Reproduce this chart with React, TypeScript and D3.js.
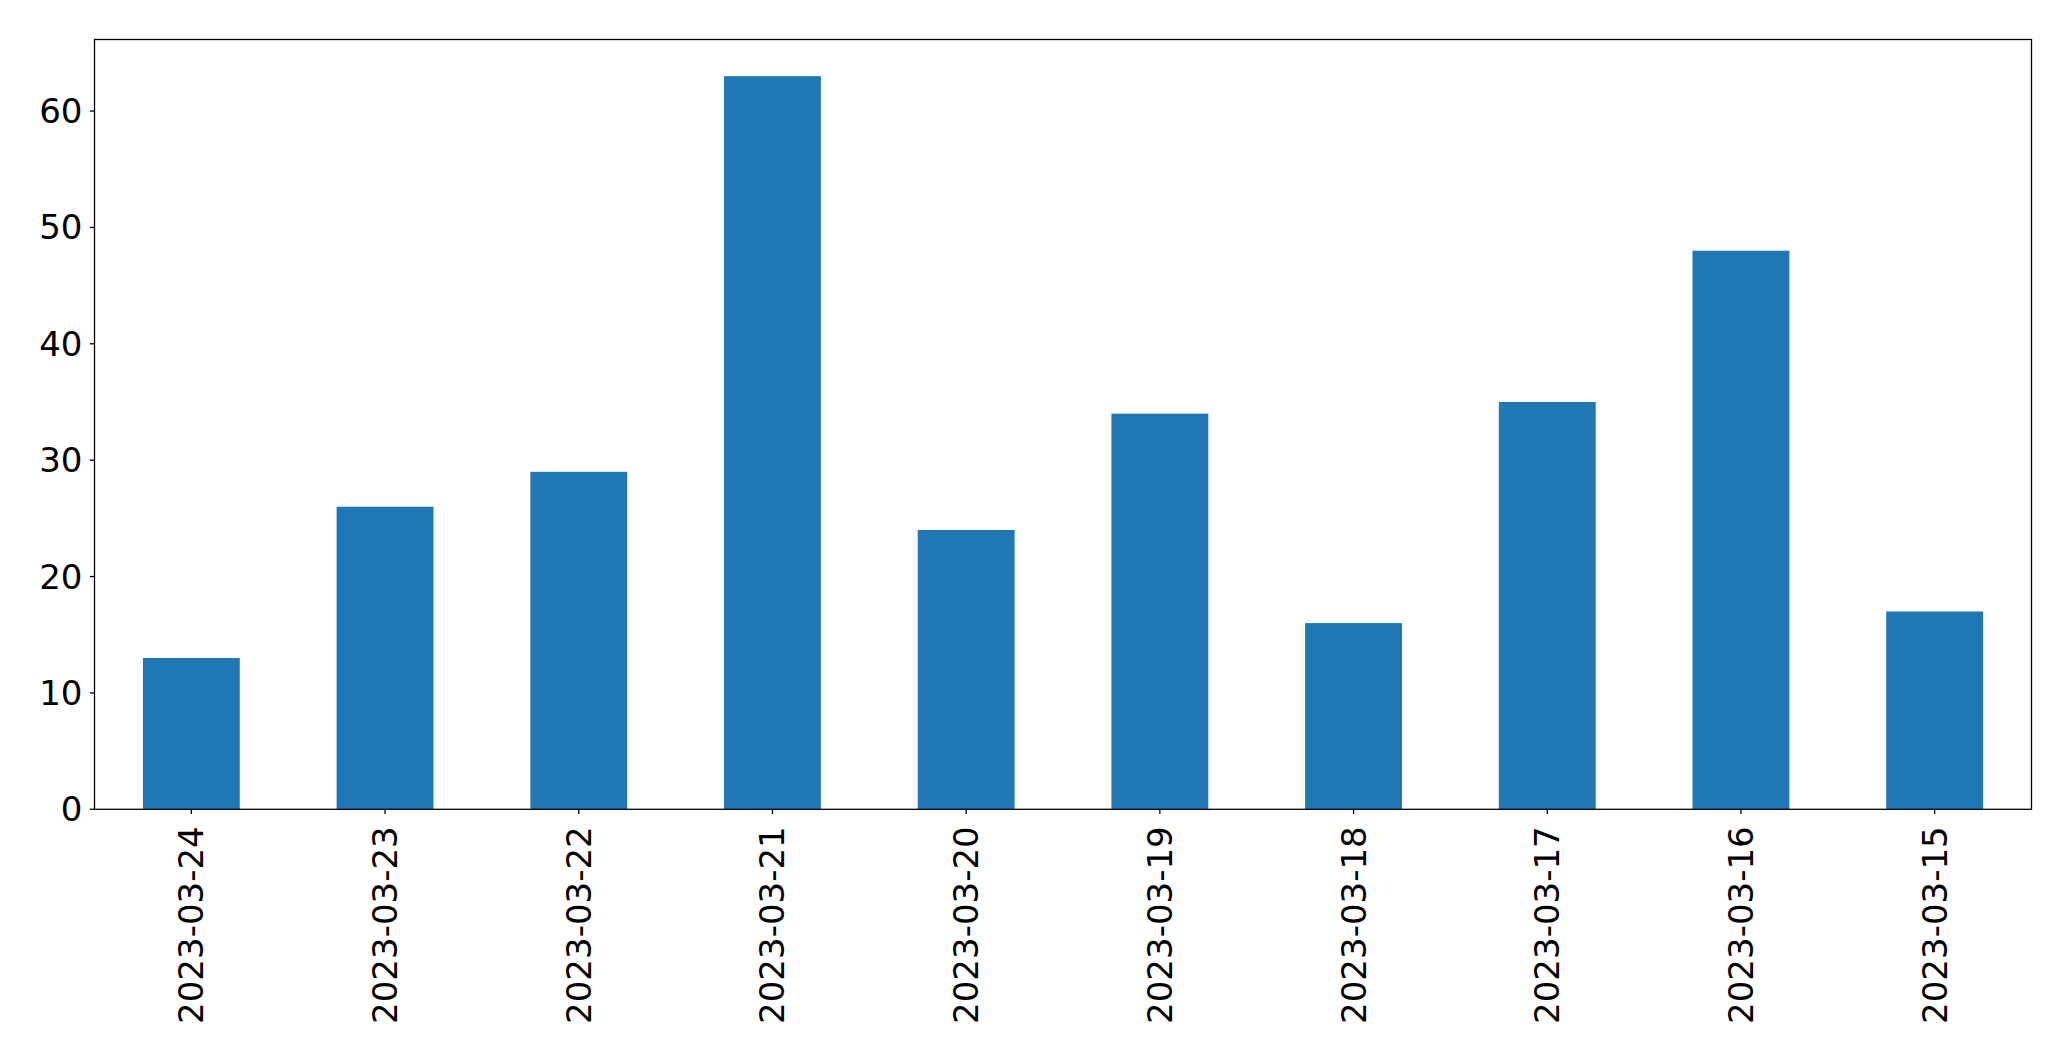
import React from "react";
import * as d3 from "d3";

const categories = ["2023-03-24","2023-03-23","2023-03-22","2023-03-21","2023-03-20","2023-03-19","2023-03-18","2023-03-17","2023-03-16","2023-03-15"];
const values = [13, 26, 29, 63, 24, 34, 16, 35, 48, 17];
const yTicks = [0, 10, 20, 30, 40, 50, 60];

export default function App() {
  const W = 2071, H = 1061;
  const left = 94.5, right = 2031.5, top = 39.5, bottom = 809.3;
  const x = d3.scaleBand<string>().domain(categories).range([left, right]).paddingInner(0.5).paddingOuter(0.25);
  const y = d3.scaleLinear().domain([0, 63 * 1.05]).range([bottom, top]);
  const font = "'DejaVu Sans', sans-serif";
  const fs = 34;
  return (
    <svg width={W} height={H} style={{ position: "absolute", left: 0, top: 0, background: "#fff" }}>
      {categories.map((c, i) => (
        <rect key={c} x={x(c)} y={y(values[i])} width={x.bandwidth()} height={bottom - y(values[i])} fill="#1f77b4" />
      ))}
      <rect x={left} y={top} width={right - left} height={bottom - top} fill="none" stroke="#000" strokeWidth={1.3} />
      {yTicks.map(t => (
        <g key={t}>
          <line x1={left - 4.7} x2={left} y1={y(t)} y2={y(t)} stroke="#000" strokeWidth={1.3} />
          <text x={left - 12} y={y(t)} textAnchor="end" dominantBaseline="central" fontFamily={font} fontSize={fs}>{t}</text>
        </g>
      ))}
      {categories.map(c => {
        const cx = x(c)! + x.bandwidth() / 2;
        return (
          <g key={c}>
            <line x1={cx} x2={cx} y1={bottom} y2={bottom + 4.7} stroke="#000" strokeWidth={1.3} />
            <text transform={`translate(${cx},${bottom + 17}) rotate(-90)`} textAnchor="end" dominantBaseline="central" fontFamily={font} fontSize={fs}>{c}</text>
          </g>
        );
      })}
    </svg>
  );
}
